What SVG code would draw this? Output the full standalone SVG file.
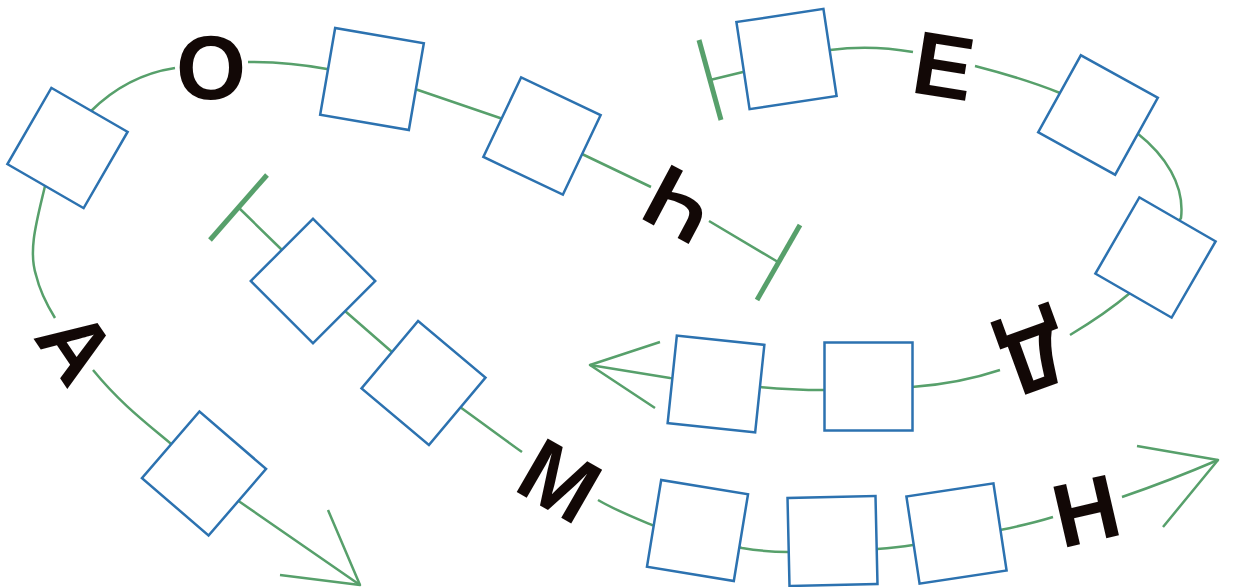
<svg xmlns="http://www.w3.org/2000/svg" width="1235" height="587" viewBox="0 0 1235 587">
<style>
.c{fill:none;stroke:#57a06b;stroke-width:2.5;stroke-linecap:butt;stroke-linejoin:round}
.t{fill:none;stroke:#57a06b;stroke-width:5}
.n{fill:#fff;stroke:#2c72b0;stroke-width:2.5}
.l{font-family:"Liberation Sans",Arial,sans-serif;font-weight:bold;font-size:90px;fill:#120806;text-anchor:middle}
</style>
<rect width="1235" height="587" fill="#fff"/>
<g id="connectors">
<path class="c" d="M778,262 L709,221 M651,187 L582,154 L500,118 L418,90 L327,69 C300,64 270,62 248,62 M175,68 C135,74 107,95 90,112 L45,186 C37,220 28,250 36,275 C40,292 47,305 55,318 M93,370 C120,403 145,422 170,443 L240,502 L360,585"/>
<path class="c" d="M328,510 L360,585 L280,575"/>
<line class="t" x1="800" y1="225" x2="757" y2="300"/>
<path class="c" d="M710,80 L743,72 L830,50 C860,46 890,48 913,52 M975,66 C1010,75 1040,85 1060,93 L1137,133 C1165,155 1185,185 1181,218 L1130,293 C1110,310 1090,323 1070,335 M1000,370 C970,380 940,385 912,387 L825,390 C800,390 780,389 760,387 L670,378 L590,365"/>
<path class="c" d="M660,342 L590,365 L655,408"/>
<line class="t" x1="699" y1="40" x2="721" y2="120"/>
<path class="c" d="M238,207 L282,250 L345,311 L392,352 L460,407 C485,425 505,440 522,452 M598,500 C615,510 635,518 652,525 L742,548 C760,551 775,552 788,552 L877,549 C890,548 900,547 913,545 L1000,530 C1020,526 1040,521 1053,517 M1122,497 C1160,484 1190,472 1218,460"/>
<path class="c" d="M1137,446 L1218,460 L1163,527"/>
<line class="t" x1="267" y1="175" x2="210" y2="240"/>
</g>
<g id="n1"><rect class="n" x="-44" y="-44" width="88" height="88" transform="translate(67.5,148) rotate(30)"/></g>
<g id="n2"><rect class="n" x="-45" y="-44" width="90" height="88" transform="translate(372,79) rotate(9.8)"/></g>
<g id="n3"><rect class="n" x="-44" y="-44" width="88" height="88" transform="translate(542,136) rotate(25.4)"/></g>
<g id="n4"><rect class="n" x="-44" y="-44" width="88" height="88" transform="translate(786.5,59) rotate(-8.6)"/></g>
<g id="n5"><rect class="n" x="-44" y="-44" width="88" height="88" transform="translate(1098,115) rotate(29)"/></g>
<g id="n6"><rect class="n" x="-44" y="-44" width="88" height="88" transform="translate(1155.5,257.5) rotate(30)"/></g>
<g id="n7"><rect class="n" x="-44" y="-44" width="88" height="88" transform="translate(868.5,386.5)"/></g>
<g id="n8"><rect class="n" x="-44" y="-44" width="88" height="88" transform="translate(716,384) rotate(6)"/></g>
<g id="n9"><rect class="n" x="-44" y="-44" width="88" height="88" transform="translate(313,281) rotate(45)"/></g>
<g id="n10"><rect class="n" x="-44" y="-44" width="88" height="88" transform="translate(423.5,383) rotate(40)"/></g>
<g id="n11"><rect class="n" x="-44" y="-44" width="88" height="88" transform="translate(204,473.5) rotate(40.8)"/></g>
<g id="n12"><rect class="n" x="-44" y="-44" width="88" height="88" transform="translate(697.5,530.5) rotate(9.3)"/></g>
<g id="n13"><rect class="n" x="-44" y="-44" width="88" height="88" transform="translate(832.5,541) rotate(-1.3)"/></g>
<g id="n14"><rect class="n" x="-44" y="-44" width="88" height="88" transform="translate(956.5,533.5) rotate(-8.6)"/></g>
<g id="labels">
<text class="l" transform="translate(211,67)" y="32">О</text>
<text class="l" transform="translate(679,205) rotate(208)" y="32">Ч</text>
<text class="l" transform="translate(944,65) rotate(9)" y="32">Е</text>
<text class="l" transform="translate(1036,359) rotate(160)" y="32">Д</text>
<text class="l" transform="translate(77,346) rotate(56)" y="32">А</text>
<text class="l" transform="translate(560,480) rotate(30)" y="32">М</text>
<text class="l" transform="translate(1086,510) rotate(-13)" y="32">Н</text>
</g>
</svg>
